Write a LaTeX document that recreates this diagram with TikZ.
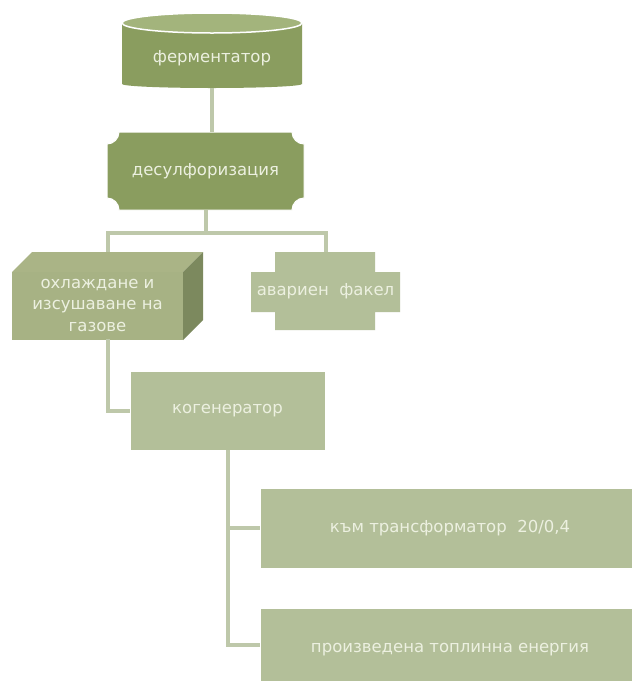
\documentclass[tikz,border=0pt]{standalone}
\usepackage{fontspec}
\setmainfont{DejaVu Sans}
\definecolor{darkol}{RGB}{138,157,95}
\definecolor{cyltop}{RGB}{163,180,124}
\definecolor{lightbox}{RGB}{179,191,153}
\definecolor{cubefront}{RGB}{167,178,132}
\definecolor{cubeside}{RGB}{124,137,94}
\definecolor{cubetopc}{RGB}{170,180,134}
\definecolor{txtc}{RGB}{236,240,224}
\definecolor{linkc}{RGB}{190,200,170}
\begin{document}
\begin{tikzpicture}[x=1pt,y=-1pt,
  lbl/.style={text=txtc,font=\fontsize{16.5}{21.5}\selectfont,align=center,inner sep=0pt},
  plainbox/.style={lbl,fill=lightbox,draw=white,line width=0.8pt,minimum width=#1},
  link/.style={draw=linkc,line width=4pt}]
\clip (0,0) rectangle (632,681);
\fill[white] (0,0) rectangle (632,681);

% cylinder
\fill[darkol] (122,23) -- (122,84) arc[start angle=180,end angle=0,x radius=90,y radius=4] -- (302,23) -- cycle;
\filldraw[fill=cyltop,draw=white,line width=1.5pt] (212,23) ellipse[x radius=90,y radius=10];
\node[lbl,minimum width=180pt,minimum height=60pt] (ferm) at (212,58) {ферментатор};

% desulfurisation plaque
\filldraw[fill=darkol,draw=white,line width=1pt] (119,132) -- (292,132) .. controls (292,138.6) and (297.4,144) .. (304,144) -- (304,198) .. controls (297.4,198) and (292,203.4) .. (292,210) -- (119,210) .. controls (119,203.4) and (113.6,198) .. (107,198) -- (107,144) .. controls (113.6,144) and (119,138.6) .. (119,132) -- cycle;
\node[lbl,minimum width=197pt,minimum height=78pt] (desulf) at (205.5,171) {десулфоризация};

% cube
\fill[cubetopc] (12,272) -- (32,252) -- (203,252) -- (183,272) -- cycle;
\fill[cubeside] (183,272) -- (203,252) -- (203,320) -- (183,340) -- cycle;
\fill[cubefront] (12,272) rectangle (183,340);
\node[lbl,minimum width=171pt,minimum height=68pt] (cube) at (97.5,305) {охлаждане и\\изсушаване на\\газове};
\coordinate (cubetop) at (107.5,252);

% emergency flare
\fill[lightbox] (275,252) -- (375,252) -- (375,272) -- (400,272) -- (400,312) -- (375,312) -- (375,330) -- (275,330) -- (275,312) -- (251,312) -- (251,272) -- (275,272) -- cycle;
\node[lbl,minimum width=149pt,minimum height=78pt] (avar) at (325.5,291) {авариен\ \ факел};

% cogenerator and outputs
\node[plainbox=195pt,minimum height=79pt] (kog) at (227.5,410.5) {когенератор};
\node[plainbox=380pt,minimum height=80pt] (trans) at (450,528) {към трансформатор\ \ 20/0,4};
\node[plainbox=380pt,minimum height=84pt] (heat) at (450,650) {произведена топлинна енергия};

% connectors
\draw[link] (ferm.south) -- (ferm.south |- desulf.north);
\coordinate (split) at (205.5,233);
\draw[link] (desulf.south) -- (split);
\draw[link] (cubetop) |- (split) -| (avar.north);
\draw[link] (cubetop |- cube.south) |- (kog.west);
\draw[link] (kog.south) |- (trans.west);
\draw[link] (kog.south) |- ([yshift=5pt]heat.west);
\end{tikzpicture}
\end{document}
